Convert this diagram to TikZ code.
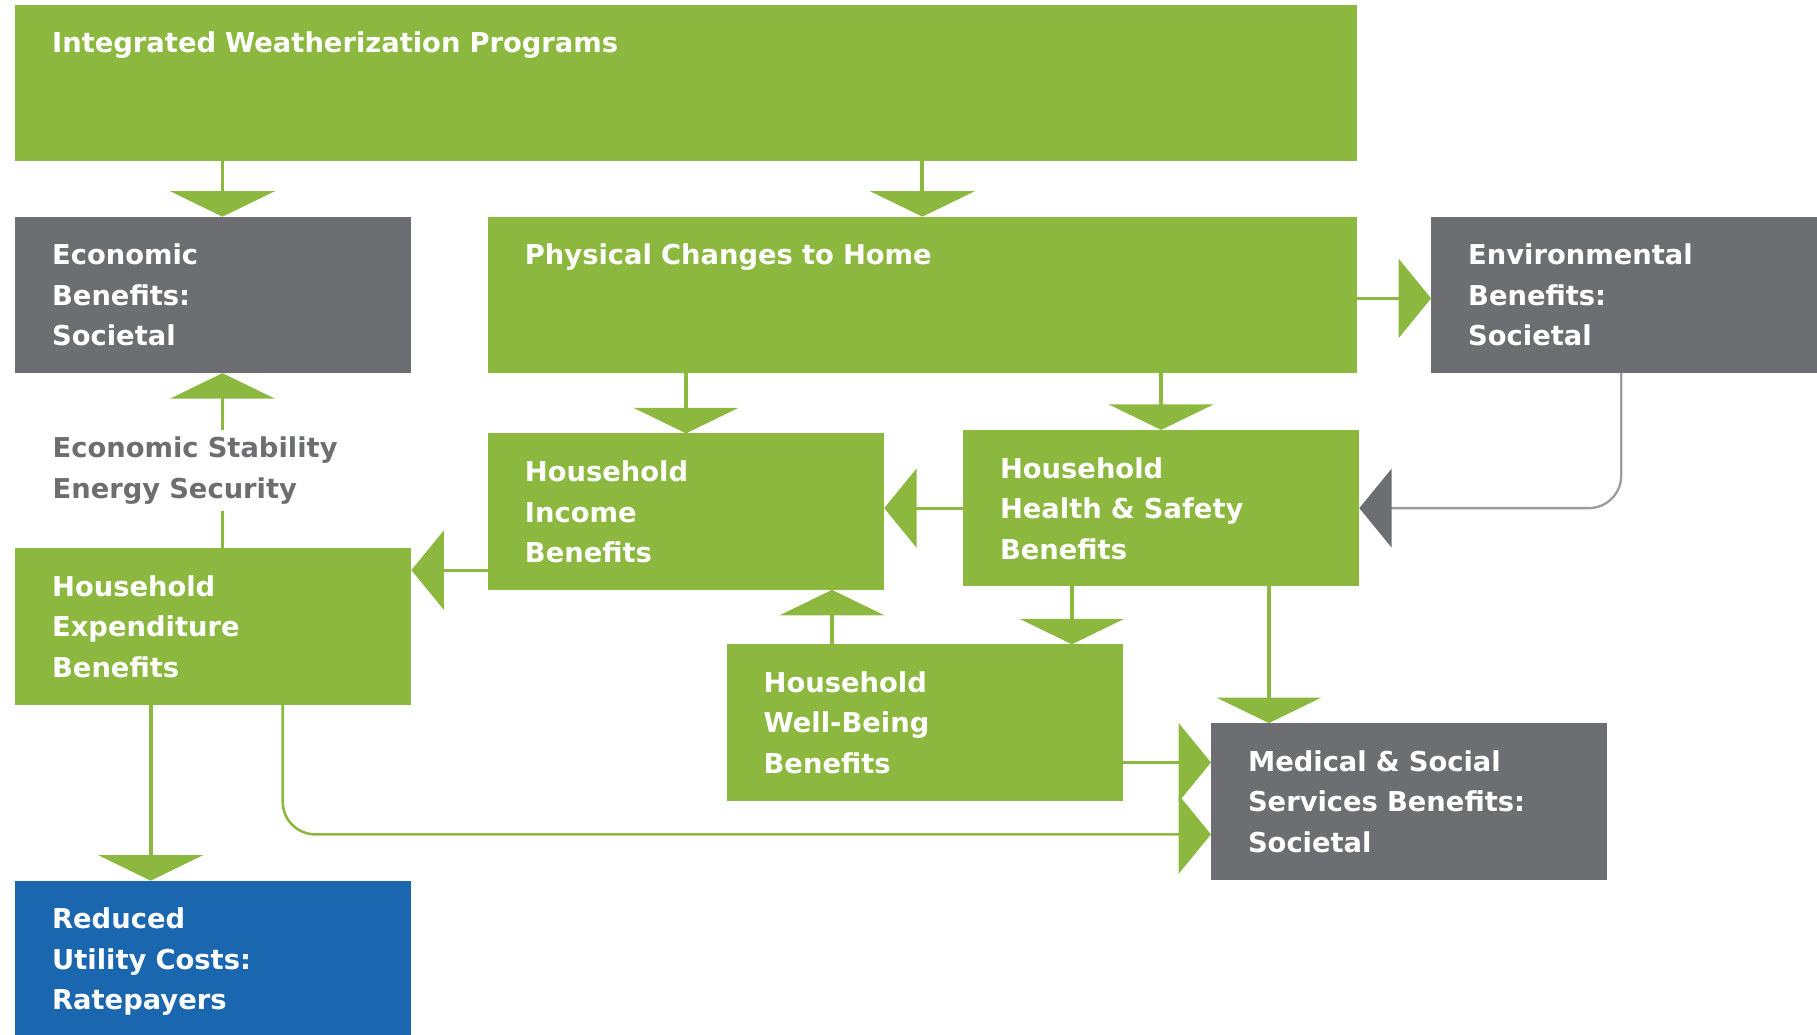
\documentclass[tikz,border=0pt]{standalone}
\usepackage{fontspec}
\setmainfont{DejaVu Sans}
\usetikzlibrary{arrows.meta, positioning}
\definecolor{wxgreen}{HTML}{8DB83F}
\definecolor{wxgray}{HTML}{6D6E71}
\definecolor{wxblue}{HTML}{1A66AF}
\definecolor{wxline}{HTML}{9B9C9E}
\tikzset{
x=0.5pt, y=-0.5pt,
box/.style={
	shape=rectangle,
	anchor=north west,
	inner xsep=16pt,
	inner ysep=0pt,
	outer sep=0pt,
	minimum height=67.5pt,
	text width=#1,
	text height=11pt,
	text depth=37pt,
	align=left,
	text=white,
	font=\fontsize{11.8}{17.5}\selectfont\bfseries,
},
box/.default=139pt,
greenbox/.style={
	fill=wxgreen,
},
graybox/.style={
	fill=wxgray,
},
bluebox/.style={
	fill=wxblue,
},
note/.style={
	text width=128pt,
	align=left,
	fill=white,
	inner xsep=0pt,
	inner ysep=3pt,
	text=wxgray,
	font=\fontsize{11.8}{17.5}\selectfont\bfseries,
},
vflow/.style={
	draw=wxgreen,
	line width=1.7pt,
	-{Triangle[length=11pt, width=45pt]},
},
hflow/.style={
	draw=wxgreen,
	line width=1.4pt,
	-{Triangle[length=14pt, width=34pt]},
},
longflow/.style={
	hflow,
	line width=1.1pt,
	rounded corners=14pt,
},
backflow/.style={
	draw=wxline,
	line width=1pt,
	rounded corners=14pt,
	-{Triangle[length=14pt, width=34pt, color=wxgray]},
}
}

\begin{document}
\begin{tikzpicture}
		\useasboundingbox (0,0) rectangle (1568,893);
		\clip (0,0) rectangle (1568,893);
		% Programs
		\node[box=547pt, greenbox] (prog) at (13,4) {Integrated Weatherization Programs};
		% Row 1
		\node[box, graybox, below right = 24pt and 0pt of prog.south west] (econ) {Economic\\Benefits:\\Societal};
		\node[box=343pt, greenbox, right = 33pt of econ] (phys) {Physical Changes to Home};
		\node[box, graybox, right = 32pt of phys] (env) {Environmental\\Benefits:\\Societal};
		% Row 2
		\node[box, greenbox] (income) at (421,374) {Household\\Income\\Benefits};
		\node[box, greenbox] (health) at (831,371) {Household\\Health \& Safety\\Benefits};
		\node[box, greenbox] (expend) at (13,473) {Household\\Expenditure\\Benefits};
		% Row 3
		\node[box, greenbox] (wellbeing) at (627,556) {Household\\Well-Being\\Benefits};
		\node[box, graybox] (medical) at (1045,624) {Medical \& Social\\Services Benefits:\\Societal};
		\node[box, bluebox, below = 76pt of expend] (reduced) {Reduced\\Utility Costs:\\Ratepayers};
		
		% Connections
		
		% prog ->
		\coordinate (econ_in) at ([xshift=4pt]econ.north);
		\draw[vflow] (prog.south -| econ_in) -- (econ_in);
		\draw[vflow] (prog.south -| phys.north) -- (phys.north);
		
		% phys ->
		\coordinate (env_in) at ([yshift=-1.5pt]env.west);
		\draw[hflow] (phys.east |- env_in) -- (env_in);
		\draw[vflow] (phys.south -| income.north) -- (income.north);
		\draw[vflow] (phys.south -| health.north) -- (health.north);
		
		% env ->
		\coordinate (env_out) at ([xshift=82pt]env.south west);
		\draw[backflow] (env_out) |- (health.east);
		
		% health ->
		\draw[hflow] (health.west) -- (health.west -| income.east);
		\coordinate (well_in) at ([xshift=47pt]health.south west);
		\draw[vflow] (well_in) -- (well_in |- wellbeing.north);
		\coordinate (med_in) at ([xshift=25pt]medical.north west);
		\draw[vflow] (med_in |- health.south) -- (med_in);
		
		% income ->
		\coordinate (exp_in) at ([yshift=-9.5pt]expend.north east);
		\draw[hflow] (income.west |- exp_in) -- (exp_in);
		
		% wellbeing ->
		\coordinate (inc_in) at ([xshift=45.5pt]wellbeing.north west);
		\draw[vflow] (inc_in) -- (inc_in |- income.south);
		\coordinate (med_in_a) at ([yshift=-17pt]medical.north west);
		\draw[hflow] (wellbeing.east |- med_in_a) -- (med_in_a);
		
		% expend ->
		\draw[vflow] (econ_in |- expend.north) -- (econ_in |- econ.south);
		\node[note, anchor=base west] (stability) at (45,395) {Economic Stability\\Energy Security};
		\coordinate (rate_in) at ([xshift=58.5pt]reduced.north west);
		\draw[vflow] (rate_in |- expend.south) -- (rate_in);
		\coordinate (exp_out) at ([xshift=115.5pt]expend.south west);
		\coordinate (med_in_b) at ([yshift=-48pt]medical.north west);
		\draw[longflow] (exp_out) |- (med_in_b);
	\end{tikzpicture}
\end{document}
